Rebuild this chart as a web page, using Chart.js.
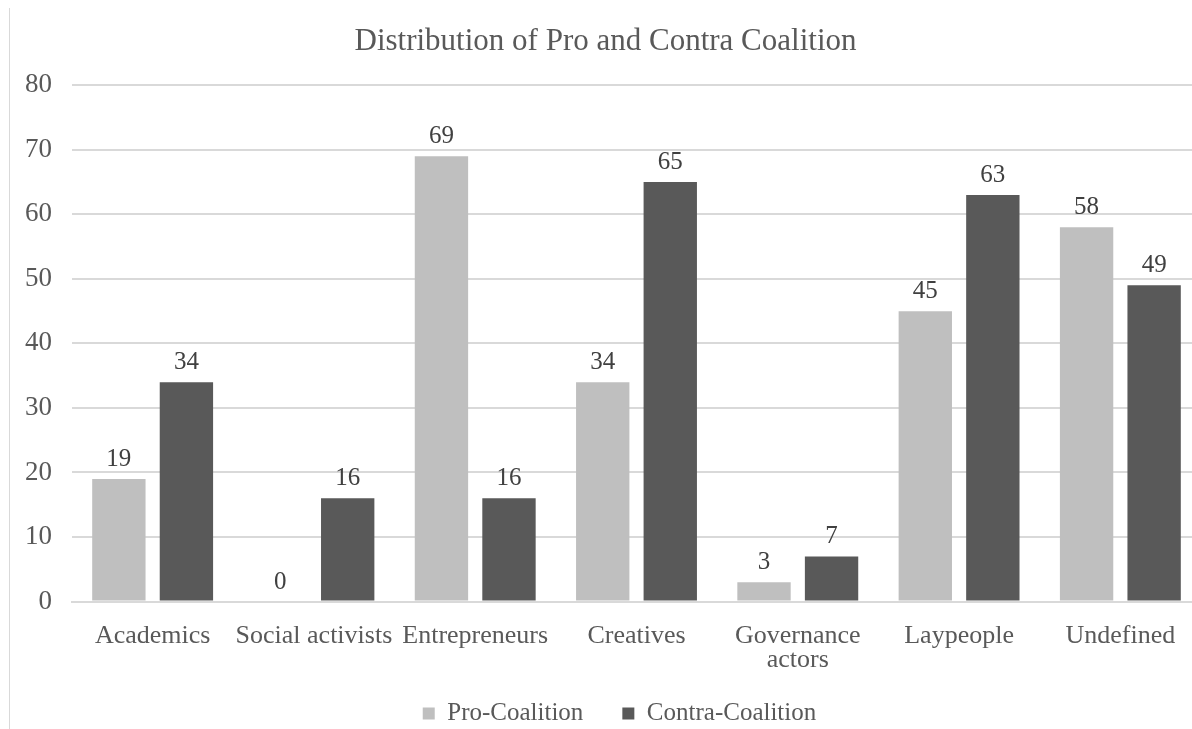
<!DOCTYPE html>
<html>
<head>
<meta charset="utf-8">
<script src="https://cdn.jsdelivr.net/npm/chart.js@4/dist/chart.umd.min.js"></script>
<style>
  html, body { margin: 0; padding: 0; background: #fff; overflow: hidden; width: 1192px; height: 729px; }
  #frame { position: absolute; left: 9px; top: 8px; width: 1px; height: 730px; background: #d9d9d9; }
  #wrap { position: absolute; left: 10px; top: 0; width: 1220px; height: 740px; }
</style>
</head>
<body>
<div id="frame"></div>
<div id="wrap"><canvas id="c"></canvas></div>
<script>
const categories = ['Academics', 'Social activists', 'Entrepreneurs', 'Creatives', ['Governance', 'actors'], 'Laypeople', 'Undefined'];
const proCoalition = [19, 0, 69, 34, 3, 45, 58];
const contraCoalition = [34, 16, 16, 65, 7, 63, 49];
const yTicks = [0, 10, 20, 30, 40, 50, 60, 70, 80];

const SERIF = '"Liberation Serif", "Times New Roman", serif';
const TEXT = '#595959';

// Value labels drawn above each bar
const valueLabels = {
  id: 'valueLabels',
  afterDatasetsDraw(chart) {
    const ctx = chart.ctx;
    ctx.save();
    ctx.font = '25px ' + SERIF;
    ctx.fillStyle = '#404040';
    ctx.textAlign = 'center';
    ctx.textBaseline = 'alphabetic';
    chart.data.datasets.forEach((ds, i) => {
      chart.getDatasetMeta(i).data.forEach((bar, j) => {
        ctx.fillText(String(ds.data[j]), bar.x, bar.y - 13);
      });
    });
    ctx.restore();
  }
};

// Nudge the legend row a little to the right of the title's centre line
const legendShift = {
  id: 'legendShift',
  afterLayout(chart) {
    if (chart.legend) {
      chart.legend.left += 14;
      chart.legend.right += 14;
    }
  }
};

new Chart(document.getElementById('c'), {
  type: 'bar',
  data: {
    labels: categories,
    datasets: [
      { label: 'Pro-Coalition', data: proCoalition, backgroundColor: '#bfbfbf' },
      { label: 'Contra-Coalition', data: contraCoalition, backgroundColor: '#595959' }
    ]
  },
  options: {
    responsive: true,
    maintainAspectRatio: false,
    animation: false,
    layout: { padding: { left: 0, right: 29, top: 14, bottom: 4 } },
    datasets: { bar: { categoryPercentage: 0.8375, barPercentage: 0.79 } },
    plugins: {
      title: {
        display: true,
        text: 'Distribution of Pro and Contra Coalition',
        color: TEXT,
        font: { family: SERIF, size: 31, weight: 'normal' },
        padding: { top: 9, bottom: 25 }
      },
      legend: {
        position: 'bottom',
        labels: {
          color: TEXT,
          font: { family: SERIF, size: 25 },
          boxWidth: 12,
          boxHeight: 12,
          padding: 14,
          generateLabels(chart) {
            const items = Chart.defaults.plugins.legend.labels.generateLabels(chart);
            // widen the gap after the first entry
            items[0].text = items[0].text + '\u2002\u2002';
            return items;
          }
        }
      },
      tooltip: { enabled: false }
    },
    scales: {
      x: {
        afterFit(scale) { scale.height -= 8; },
        grid: { display: false, drawTicks: false },
        border: { color: '#d9d9d9', width: 2 },
        ticks: { color: TEXT, font: { family: SERIF, size: 26, lineHeight: 0.95 }, padding: 22, maxRotation: 0, autoSkip: false }
      },
      y: {
        min: 0,
        max: 80,
        afterBuildTicks(scale) { scale.ticks = yTicks.map(v => ({ value: v })); },
        afterFit(scale) { scale.width = 62; },
        grid: { color: '#d9d9d9', lineWidth: 2, drawTicks: false },
        border: { display: false },
        ticks: { color: TEXT, font: { family: SERIF, size: 27 }, padding: 20 }
      }
    }
  },
  plugins: [valueLabels, legendShift]
});
</script>
</body>
</html>
